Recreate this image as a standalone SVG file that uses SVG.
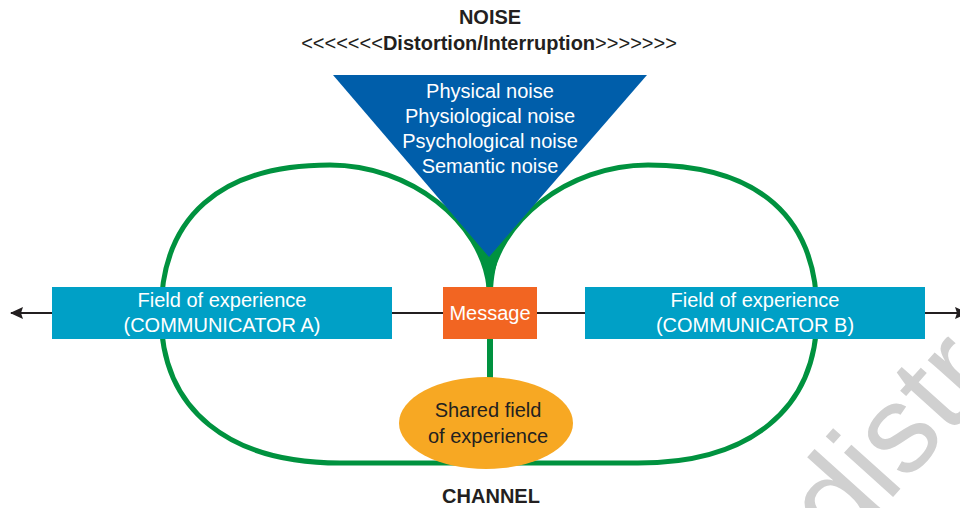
<svg xmlns="http://www.w3.org/2000/svg" width="960" height="508" viewBox="0 0 960 508">
<style>
text{font-family:"Liberation Sans",Arial,sans-serif;font-size:20px;text-anchor:middle}
.w{fill:#ffffff}
.k{fill:#231f20}
.b{font-weight:bold}
.loop{fill:none;stroke:#00923f;stroke-width:5}
.box{fill:#00a0c6}
</style>
<defs>
<marker id="ah" viewBox="0 0 13 12" refX="12" refY="6" markerWidth="13" markerHeight="12" markerUnits="userSpaceOnUse" orient="auto-start-reverse">
<path d="M0,0 L13,6 L0,12 L2,6 Z" fill="#231f20"/>
</marker>
</defs>
<rect width="960" height="508" fill="#ffffff"/>
<g id="title">
<text class="k b" x="490" y="24">NOISE</text>
<text class="k" x="489" y="50">&lt;&lt;&lt;&lt;&lt;&lt;&lt;<tspan class="b">Distortion/Interruption</tspan>&gt;&gt;&gt;&gt;&gt;&gt;&gt;</text>
</g>
<g id="connectors">
<line x1="11" y1="313" x2="967" y2="313" stroke="#231f20" stroke-width="2" marker-start="url(#ah)" marker-end="url(#ah)"/>
<path class="loop" d="M489,287 C482,222 410,165 330,165 C220,165 161,217 161,314 C161,411 230,463 340,463 L489,463"/>
<path class="loop" d="M489,287 C496,222 568,165 648,165 C758,165 817,217 817,314 C817,411 748,463 638,463 L489,463"/>
<path d="M462,222 C476,240 486,260 487,292 L493,292 C494,260 504,240 518,222 Z" fill="#00923f"/>
<line x1="490" y1="285" x2="490" y2="385" stroke="#00923f" stroke-width="6"/>
</g>
<g id="noise">
<polygon points="333,75 647,75 489,257" fill="#005eaa"/>
<text class="w" x="490" y="98">Physical noise</text>
<text class="w" x="490" y="123">Physiological noise</text>
<text class="w" x="490" y="148">Psychological noise</text>
<text class="w" x="490" y="173">Semantic noise</text>
</g>
<g id="communicatorA">
<rect class="box" x="52" y="287" width="340" height="52"/>
<text class="w" x="222" y="307">Field of experience</text>
<text class="w" x="222" y="332">(COMMUNICATOR A)</text>
</g>
<g id="communicatorB">
<rect class="box" x="585" y="287" width="340" height="52"/>
<text class="w" x="755" y="307">Field of experience</text>
<text class="w" x="755" y="332">(COMMUNICATOR B)</text>
</g>
<g id="message">
<rect x="443" y="287" width="94" height="52" fill="#f26522"/>
<text class="w" x="490" y="320">Message</text>
</g>
<g id="shared">
<ellipse cx="486" cy="423" rx="87" ry="46" fill="#f7a823"/>
<text class="k" x="488" y="417">Shared field</text>
<text class="k" x="488" y="443">of experience</text>
</g>
<g id="channel">
<text class="k b" x="491" y="503">CHANNEL</text>
</g>
<text x="841" y="555" transform="rotate(-48 841 555)" style="font-size:125px;text-anchor:start;fill:#d0d0d0">distr</text>
</svg>
